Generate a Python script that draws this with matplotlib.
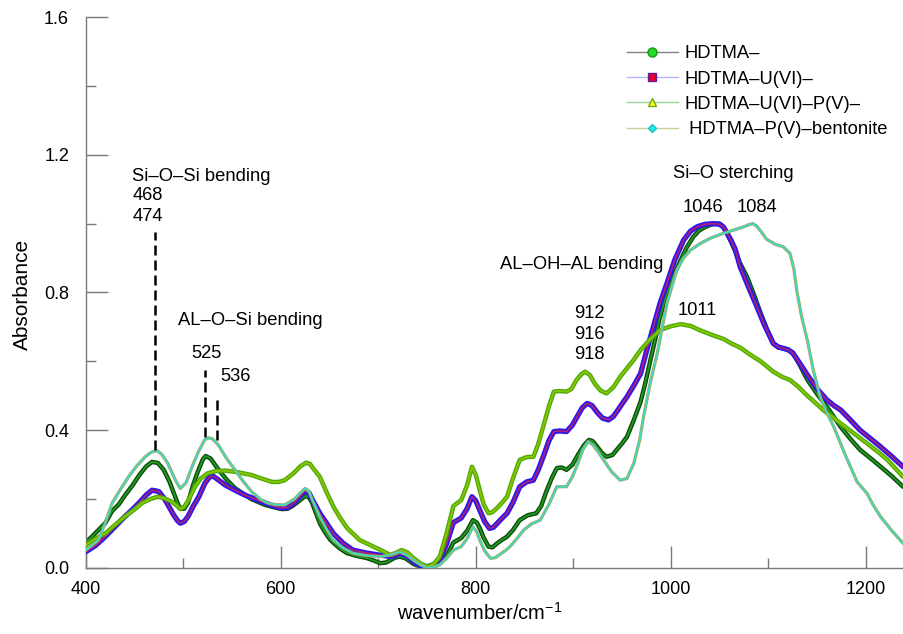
import matplotlib
matplotlib.use("Agg")
import matplotlib.pyplot as plt
from matplotlib.lines import Line2D
from matplotlib.ticker import MultipleLocator, FormatStrFormatter

plt.rcParams['font.family'] = ['Liberation Sans', 'DejaVu Sans']
plt.rcParams['mathtext.default'] = 'regular'

# ---------------- data ----------------
wn_hdtma = [400, 406, 413, 420, 427, 434, 440, 448, 455, 462, 468, 474, 480, 486, 490, 494, 497, 501,
            505, 510, 515, 520, 523, 528, 535, 544, 553, 562, 570, 584, 595, 601, 607, 612, 619, 625,
            629, 632, 636, 640, 645, 651, 660, 668, 678, 688, 695, 702, 708, 712, 717, 722, 728, 736,
            743, 750, 757, 763, 770, 777, 785, 791, 797, 801, 804, 808, 813, 817, 822, 827, 832, 838,
            845, 853, 862, 867, 872, 878, 883, 888, 893, 899, 905, 911, 916, 920, 925, 929, 934, 940,
            945, 950, 955, 962, 969, 974, 979, 984, 988, 992, 996, 1003, 1010, 1016, 1023, 1029, 1035,
            1041, 1046, 1050, 1054, 1058, 1062, 1066, 1070, 1078, 1085, 1092, 1099, 1105, 1110, 1115,
            1120, 1125, 1132, 1140, 1150, 1160, 1174, 1184, 1194, 1205, 1215, 1226, 1238]
ab_hdtma = [0.075, 0.09, 0.11, 0.13, 0.165, 0.185, 0.21, 0.24, 0.27, 0.295, 0.308, 0.305, 0.285, 0.25,
            0.22, 0.19, 0.172, 0.172, 0.19, 0.24, 0.28, 0.315, 0.325, 0.318, 0.29, 0.258, 0.232, 0.215,
            0.20, 0.183, 0.175, 0.171, 0.172, 0.18, 0.195, 0.209, 0.205, 0.19, 0.16, 0.13, 0.105, 0.081,
            0.058, 0.043, 0.035, 0.029, 0.022, 0.014, 0.016, 0.022, 0.03, 0.033, 0.028, 0.012, 0.004,
            0.0, 0.004, 0.014, 0.035, 0.074, 0.087, 0.108, 0.139, 0.132, 0.116, 0.088, 0.062, 0.06,
            0.072, 0.082, 0.091, 0.11, 0.139, 0.153, 0.159, 0.18, 0.22, 0.262, 0.29, 0.292, 0.285,
            0.3, 0.33, 0.357, 0.372, 0.368, 0.35, 0.335, 0.323, 0.328, 0.345, 0.362, 0.381, 0.43,
            0.483, 0.54, 0.604, 0.665, 0.72, 0.76, 0.798, 0.85, 0.894, 0.93, 0.962, 0.98, 0.99, 0.997,
            1.0, 1.0, 0.99, 0.97, 0.945, 0.92, 0.89, 0.846, 0.795, 0.74, 0.69, 0.652, 0.64, 0.638,
            0.634, 0.626, 0.59, 0.546, 0.505, 0.468, 0.41, 0.375, 0.343, 0.318, 0.294, 0.268, 0.236]

wn_u = [400, 410, 420, 430, 440, 448, 455, 462, 468, 475, 481, 486, 490, 494, 497, 501, 505, 510, 516,
        522, 527, 531, 535, 543, 553, 563, 574, 584, 593, 601, 607, 612, 619, 625, 629, 632, 636, 640,
        647, 654, 664, 674, 687, 700, 708, 715, 722, 729, 736, 743, 750, 757, 763, 770, 777, 785, 791,
        796, 800, 804, 809, 814, 818, 822, 827, 832, 838, 845, 852, 859, 864, 870, 875, 880, 886, 893,
        899, 904, 909, 914, 919, 925, 930, 936, 941, 946, 950, 955, 962, 969, 975, 982, 989, 996,
        1004, 1013, 1020, 1027, 1035, 1043, 1050, 1054, 1058, 1062, 1066, 1071, 1079, 1088, 1096,
        1105, 1110, 1115, 1120, 1125, 1132, 1140, 1150, 1160, 1167, 1174, 1184, 1194, 1205, 1215,
        1226, 1238]
ab_u = [0.047, 0.065, 0.091, 0.12, 0.149, 0.17, 0.19, 0.212, 0.226, 0.222, 0.2, 0.175, 0.155, 0.138,
        0.13, 0.135, 0.15, 0.178, 0.207, 0.245, 0.265, 0.266, 0.258, 0.241, 0.226, 0.212, 0.2, 0.189,
        0.18, 0.174, 0.176, 0.185, 0.205, 0.226, 0.218, 0.2, 0.18, 0.159, 0.13, 0.10, 0.072, 0.052,
        0.044, 0.038, 0.035, 0.033, 0.043, 0.036, 0.018, 0.008, 0.004, 0.01, 0.023, 0.07, 0.132,
        0.145, 0.172, 0.207, 0.195, 0.168, 0.135, 0.115, 0.118, 0.13, 0.145, 0.159, 0.19, 0.236,
        0.25, 0.255, 0.285, 0.33, 0.37, 0.396, 0.398, 0.396, 0.415, 0.44, 0.465, 0.478, 0.472, 0.45,
        0.435, 0.43, 0.44, 0.46, 0.477, 0.497, 0.53, 0.565, 0.63, 0.70, 0.77, 0.827, 0.895, 0.952,
        0.978, 0.991, 0.998, 1.0, 0.998, 0.99, 0.97, 0.95, 0.925, 0.875, 0.82, 0.76, 0.705, 0.652,
        0.642, 0.638, 0.634, 0.624, 0.595, 0.56, 0.52, 0.488, 0.472, 0.459, 0.43, 0.40, 0.375,
        0.352, 0.325, 0.294]

wn_up = [400, 410, 420, 430, 440, 450, 458, 466, 474, 481, 488, 493, 497, 501, 505, 512, 518, 525, 533,
         543, 556, 570, 580, 591, 598, 604, 613, 620, 626, 630, 633, 640, 647, 654, 661, 668, 681, 695,
         704, 712, 718, 724, 730, 736, 743, 750, 757, 763, 770, 777, 785, 791, 796, 800, 804, 808, 813,
         817, 822, 827, 832, 838, 845, 852, 859, 864, 870, 875, 880, 886, 893, 898, 903, 908, 912,
         917, 922, 928, 934, 941, 948, 955, 962, 969, 979, 989, 1000, 1010, 1020, 1030, 1042, 1054,
         1062, 1071, 1081, 1092, 1105, 1114, 1122, 1130, 1140, 1148, 1156, 1165, 1174, 1188, 1201,
         1212, 1222, 1238]
ab_up = [0.067, 0.085, 0.10, 0.125, 0.149, 0.17, 0.189, 0.2, 0.207, 0.202, 0.193, 0.182, 0.171, 0.178,
         0.195, 0.236, 0.26, 0.275, 0.281, 0.283, 0.278, 0.27, 0.26, 0.25, 0.25, 0.255, 0.275, 0.295,
         0.306, 0.302, 0.29, 0.265, 0.22, 0.178, 0.145, 0.116, 0.081, 0.062, 0.05, 0.038, 0.044,
         0.052, 0.045, 0.029, 0.014, 0.004, 0.012, 0.033, 0.10, 0.18, 0.197, 0.24, 0.294, 0.27,
         0.226, 0.185, 0.159, 0.162, 0.175, 0.19, 0.207, 0.26, 0.314, 0.322, 0.323, 0.36, 0.42,
         0.47, 0.512, 0.514, 0.512, 0.52, 0.545, 0.562, 0.570, 0.56, 0.535, 0.515, 0.507, 0.525,
         0.555, 0.58, 0.605, 0.633, 0.665, 0.691, 0.702, 0.708, 0.703, 0.69, 0.677, 0.665, 0.652,
         0.64, 0.62, 0.60, 0.57, 0.555, 0.546, 0.528, 0.50, 0.48, 0.459, 0.44, 0.42, 0.39, 0.362,
         0.338, 0.314, 0.265]

wn_p = [400, 406, 413, 420, 427, 436, 444, 452, 461, 467, 473, 478, 484, 488, 492, 497, 503, 509, 516,
        522, 526, 530, 536, 544, 553, 562, 570, 579, 587, 595, 604, 614, 620, 625, 629, 632, 636, 640,
        647, 654, 664, 674, 688, 702, 712, 722, 729, 736, 743, 750, 757, 763, 770, 777, 785, 791, 797,
        801, 804, 809, 815, 820, 825, 830, 835, 842, 849, 857, 866, 875, 883, 893, 899, 904, 910, 915,
        920, 926, 931, 939, 948, 955, 962, 968, 972, 979, 986, 996, 1006, 1013, 1020, 1030, 1040,
        1052, 1064, 1074, 1080, 1084, 1088, 1093, 1098, 1107, 1115, 1122, 1126, 1129, 1134, 1140,
        1146, 1153, 1160, 1167, 1180, 1191, 1201, 1208, 1215, 1226, 1238]
ab_p = [0.052, 0.065, 0.081, 0.13, 0.188, 0.23, 0.265, 0.295, 0.323, 0.336, 0.341, 0.33, 0.305, 0.28,
        0.255, 0.231, 0.248, 0.294, 0.34, 0.372, 0.378, 0.375, 0.357, 0.32, 0.285, 0.25, 0.222, 0.2,
        0.188, 0.184, 0.183, 0.20, 0.218, 0.231, 0.222, 0.2, 0.175, 0.149, 0.112, 0.081, 0.058,
        0.043, 0.036, 0.033, 0.038, 0.047, 0.038, 0.023, 0.01, 0.0, 0.003, 0.009, 0.028, 0.052,
        0.062, 0.085, 0.12, 0.105, 0.081, 0.05, 0.028, 0.03, 0.04, 0.05, 0.062, 0.085, 0.110,
        0.128, 0.139, 0.185, 0.236, 0.236, 0.265, 0.30, 0.345, 0.367, 0.358, 0.335, 0.314, 0.28,
        0.255, 0.26, 0.304, 0.372, 0.44, 0.54, 0.623, 0.769, 0.865, 0.9, 0.923, 0.942, 0.957, 0.97,
        0.981, 0.99, 0.997, 1.0, 0.993, 0.975, 0.955, 0.94, 0.933, 0.914, 0.87, 0.807, 0.73, 0.66,
        0.575, 0.497, 0.45, 0.41, 0.32, 0.25, 0.217, 0.18, 0.149, 0.11, 0.072]

labels = ['HDTMA–', 'HDTMA–U(VI)–', 'HDTMA–U(VI)–P(V)–', ' HDTMA–P(V)–bentonite']

# ---------------- figure ----------------
fig = plt.figure(figsize=(9.04, 6.34), dpi=100)
ax = fig.add_axes([85.7 / 904, 1 - 568 / 634, 1 - 85.7 / 904, (568 - 17) / 634])

ax.plot(wn_hdtma, ab_hdtma, color='#0c4a0c', lw=3.2, solid_capstyle='round', zorder=2)
ax.plot(wn_hdtma, ab_hdtma, color='#1f9a1f', lw=1.3, zorder=2.1)
ax.plot(wn_u, ab_u, color='#2b17f0', lw=3.8, solid_capstyle='round', zorder=3)
ax.plot(wn_u, ab_u, color='#b3206e', lw=1.2, zorder=3.1)
ax.plot(wn_up, ab_up, color='#4fa80a', lw=3.2, solid_capstyle='round', zorder=4)
ax.plot(wn_up, ab_up, color='#86c800', lw=1.3, zorder=4.1)
ax.plot(wn_p, ab_p, color='#a9a05a', lw=2.3, zorder=5)
ax.plot(wn_p, ab_p, color='#3fdcbf', lw=1.3, zorder=5.1)

ax.set_xlim(400, 1239)
ax.set_ylim(0, 1.6)
ax.xaxis.set_major_locator(MultipleLocator(200))
ax.xaxis.set_minor_locator(MultipleLocator(100))
ax.yaxis.set_major_locator(MultipleLocator(0.4))
ax.yaxis.set_minor_locator(MultipleLocator(0.2))
ax.yaxis.set_major_formatter(FormatStrFormatter('%.1f'))

for s in ['top', 'right']:
    ax.spines[s].set_visible(False)
for s in ['left', 'bottom']:
    ax.spines[s].set_color('#7a7a7a')
    ax.spines[s].set_linewidth(1.0)

ax.tick_params(which='major', direction='in', length=15.5, width=1, color='#7a7a7a',
               labelsize=13, labelcolor='black')
ax.tick_params(which='minor', direction='in', length=7.5, width=1, color='#7a7a7a')
ax.tick_params(axis='x', which='major', pad=9)
ax.tick_params(axis='y', which='major', pad=12)

fig.text(22 / 904, 1 - 294 / 634, 'Absorbance', rotation=90, ha='center', va='center', fontsize=15)
fig.text(480 / 904, 1 - 613 / 634, 'wavenumber/cm$^{-1}$', ha='center', va='center', fontsize=14.5)

dash = dict(color='black', lw=1.8, linestyle=(0, (4, 2)), zorder=6)
ax.plot([471, 471], [0.343, 0.976], **dash)
ax.plot([522.5, 522.5], [0.38, 0.575], **dash)
ax.plot([534.6, 534.6], [0.372, 0.502], **dash)

tk = dict(ha='center', va='center', fontsize=13.2, zorder=7)
ax.text(518, 1.138, 'Si–O–Si bending', **tk)
ax.text(464, 1.083, '468', **tk)
ax.text(464, 1.022, '474', **tk)
ax.text(568.6, 0.72, 'AL–O–Si bending', **tk)
ax.text(523.5, 0.624, '525', **tk)
ax.text(554, 0.557, '536', **tk)
ax.text(909, 0.88, 'AL–OH–AL bending', **tk)
ax.text(916, 0.74, '912', **tk)
ax.text(916, 0.679, '916', **tk)
ax.text(916, 0.621, '918', **tk)
ax.text(1027, 0.749, '1011', **tk)
ax.text(1064, 1.147, 'Si–O sterching', **tk)
ax.text(1033, 1.047, '1046', **tk)
ax.text(1088, 1.047, '1084', **tk)

handles = [
    Line2D([], [], color='#808080', lw=1, marker='o', markersize=6.5,
           markerfacecolor='#22dd22', markeredgecolor='#119911'),
    Line2D([], [], color='#b4b4ff', lw=1, marker='s', markersize=6,
           markerfacecolor='#e0002a', markeredgecolor='#6a1aa0'),
    Line2D([], [], color='#9ad39a', lw=1, marker='^', markersize=6,
           markerfacecolor='#ffff00', markeredgecolor='#66aa22'),
    Line2D([], [], color='#cccc99', lw=1, marker='D', markersize=4.5,
           markerfacecolor='#22e6e6', markeredgecolor='#22c0c0'),
]
ax.legend(handles, labels, loc='upper left', bbox_to_anchor=(0.652, 0.962), frameon=False,
          fontsize=13.2, handlelength=2.8, handletextpad=0.35, labelspacing=0.45, borderaxespad=0)

fig.savefig('out.png', dpi=100)
